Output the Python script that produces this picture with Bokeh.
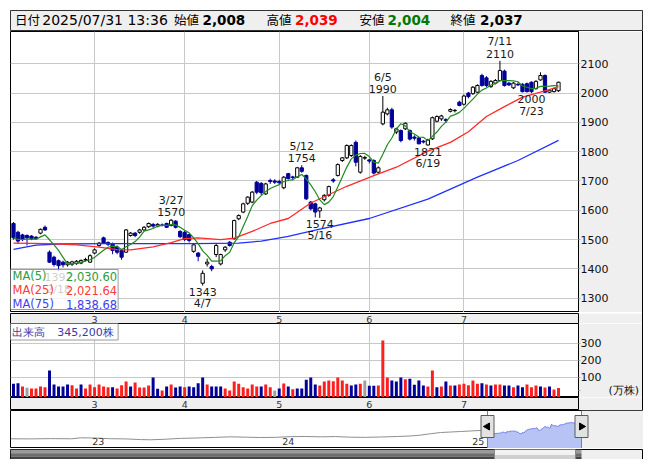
import numpy as np
import pandas as pd
from bokeh.plotting import figure
from bokeh.models import Range1d, FixedTicker, ColumnDataSource, Spacer, Grid
from bokeh.layouts import column, row
from bokeh.embed import file_html
from bokeh.resources import INLINE
from bokeh.core.properties import value

# ---------------- data ----------------
OPEN = [1555, 1525, 1516, 1514, 1512, 1508, 1522, 1542, 1457, 1440,
        1428, 1423, 1414, 1416, 1418, 1420, 1430, 1423, 1454, 1480,
        1506, 1490, 1486, 1475, 1463, 1457, 1514, 1522, 1525, 1533,
        1544, 1552, 1546, 1550, 1555, 1548, 1563, 1528, 1525, 1517,
        1460, 1454, 1351, 1417, 1408, 1449, 1417, 1465, 1491, 1503,
        1571, 1594, 1624, 1628, 1696, 1692, 1656, 1702, 1700, 1698,
        1677, 1725, 1714, 1713, 1745, 1719, 1628, 1622, 1598, 1636,
        1651, 1704, 1719, 1770, 1779, 1787, 1832, 1730, 1778, 1772,
        1770, 1730, 1895, 1929, 1943, 1867, 1872, 1878, 1872, 1850,
        1847, 1836, 1823, 1844, 1904, 1912, 1910, 1938, 1940, 1969,
        1962, 2000, 1998, 2003, 2060, 2052, 2022, 2034, 2043, 2075,
        2034, 2018, 2030, 2030, 2032, 2037, 2015, 2045, 2060, 2003,
        2005, 2008]
HIGH = [1560, 1530, 1520, 1518, 1515, 1512, 1538, 1548, 1463, 1445,
        1432, 1428, 1427, 1428, 1430, 1432, 1438, 1450, 1470, 1492,
        1510, 1494, 1490, 1480, 1466, 1536, 1526, 1526, 1537, 1546,
        1558, 1556, 1556, 1555, 1558, 1570, 1566, 1532, 1530, 1520,
        1486, 1458, 1395, 1435, 1414, 1485, 1452, 1478, 1495, 1568,
        1586, 1626, 1648, 1666, 1700, 1696, 1694, 1708, 1706, 1704,
        1717, 1728, 1718, 1748, 1754, 1722, 1632, 1626, 1612, 1655,
        1684, 1710, 1760, 1782, 1825, 1825, 1838, 1788, 1786, 1776,
        1774, 1750, 1990, 1950, 1950, 1882, 1876, 1900, 1876, 1856,
        1850, 1840, 1844, 1920, 1924, 1926, 1914, 1948, 1946, 1974,
        1995, 2004, 2024, 2030, 2066, 2058, 2044, 2048, 2110, 2080,
        2038, 2038, 2036, 2034, 2036, 2040, 2044, 2071, 2064, 2014,
        2019, 2039]
LOW = [1500, 1485, 1495, 1480, 1498, 1500, 1518, 1530, 1420, 1408,
       1392, 1405, 1408, 1410, 1414, 1416, 1426, 1420, 1450, 1476,
       1485, 1478, 1450, 1450, 1431, 1455, 1510, 1508, 1520, 1530,
       1540, 1540, 1542, 1545, 1540, 1545, 1538, 1505, 1495, 1490,
       1455, 1426, 1343, 1408, 1392, 1440, 1412, 1458, 1476, 1500,
       1566, 1590, 1618, 1624, 1655, 1652, 1652, 1690, 1690, 1688,
       1672, 1705, 1702, 1710, 1728, 1635, 1600, 1576, 1574, 1630,
       1646, 1694, 1715, 1765, 1775, 1782, 1750, 1725, 1772, 1760,
       1722, 1725, 1890, 1924, 1878, 1860, 1832, 1874, 1838, 1838,
       1825, 1828, 1821, 1840, 1900, 1905, 1898, 1934, 1934, 1955,
       1958, 1982, 1994, 2000, 2022, 2020, 2018, 2030, 2040, 2022,
       2024, 2014, 2024, 2002, 2002, 2000, 2012, 2042, 2001, 2000,
       2002, 2004]
CLOSE = [1506, 1495, 1500, 1506, 1503, 1503, 1535, 1533, 1423, 1415,
         1411, 1414, 1423, 1424, 1426, 1429, 1432, 1445, 1465, 1488,
         1488, 1484, 1463, 1457, 1440, 1533, 1522, 1514, 1533, 1542,
         1555, 1546, 1552, 1549, 1542, 1566, 1542, 1510, 1500, 1497,
         1482, 1443, 1385, 1423, 1400, 1480, 1449, 1474, 1480, 1565,
         1582, 1622, 1645, 1662, 1662, 1660, 1690, 1698, 1696, 1694,
         1713, 1708, 1712, 1745, 1733, 1639, 1605, 1594, 1608, 1651,
         1681, 1700, 1756, 1779, 1821, 1821, 1764, 1784, 1780, 1768,
         1727, 1745, 1935, 1943, 1884, 1878, 1838, 1897, 1843, 1846,
         1827, 1833, 1840, 1916, 1920, 1922, 1906, 1944, 1941, 1958,
         1990, 1988, 2020, 2026, 2026, 2026, 2040, 2043, 2077, 2026,
         2028, 2034, 2028, 2005, 2005, 2005, 2040, 2060, 2003, 2010,
         2015, 2037]
# volume in 10,000 shares (万株)
VOLUME = [60, 64, 44, 36, 32, 32, 44, 40, 140, 56,
          44, 44, 56, 52, 32, 56, 32, 56, 40, 56,
          44, 40, 40, 32, 52, 74, 44, 68, 38, 38,
          50, 98, 30, 20, 44, 56, 38, 44, 40, 44,
          40, 64, 98, 56, 44, 44, 44, 32, 20, 74,
          60, 40, 32, 56, 44, 44, 56, 40, 20, 32,
          62, 44, 28, 32, 32, 84, 98, 56, 50, 74,
          80, 76, 98, 80, 60, 50, 56, 60, 80, 48,
          48, 50, 320, 98, 80, 74, 98, 88, 90, 54,
          80, 50, 44, 140, 40, 44, 74, 50, 50, 56,
          60, 52, 80, 60, 64, 56, 50, 56, 56, 50,
          50, 40, 50, 40, 56, 40, 50, 44, 38, 44,
          26, 34.52]
VOL_DIR = list("bbrgrrrrbb" "bbbrrbrrrr" "rrbrrrbrrr" "rbbrbrbbrb" "bbbrbbbrrr"
               "rrrrrbrrgb" "rbrbbbbbrr" "rrrrrbbrgb" "brrrbbbrbb" "bbrrbrbrbr"
               "rrrrbrbrrb" "brbbrrrbrb" "rr")

MA25_IDX = [0, 8, 14, 19, 23, 26, 31, 35, 38, 41, 46, 49, 53, 57, 61, 66, 74, 80, 85,
            92, 97, 101, 105, 109, 113, 117, 121]
MA25_VAL = [1488, 1486, 1482, 1474, 1466, 1465, 1475, 1490, 1503, 1506, 1500, 1505, 1528,
            1555, 1572, 1625, 1682, 1718, 1747, 1802, 1832, 1868, 1920, 1954, 1986, 2003, 2021.64]
MA75_IDX = [0, 5, 10, 20, 40, 50, 55, 61, 67, 79, 92, 103, 112, 121]
MA75_VAL = [1467, 1481, 1485, 1486, 1486, 1488, 1495, 1511, 1532, 1572, 1638, 1713, 1770, 1838.68]

MONTH_START = [18, 38, 59, 79, 100]
MONTH_LABELS = ["3", "4", "5", "6", "7"]
Y_TICKS = [1300, 1400, 1500, 1600, 1700, 1800, 1900, 2000, 2100]
VOL_TICKS = [100, 200, 300]
VOL_UNIT = "(万株)"
VOL_UNIT_AT = 20

ANN_IDX = [10, 35, 42, 64, 68, 82, 92, 108, 115]
ANN_DATE = ["2/18", "3/27", "4/7", "5/12", "5/16", "6/5", "6/19", "7/11", "7/23"]
ANN_KIND = ["low", "high", "low", "high", "low", "high", "low", "high", "low"]

HEADER_DATETIME = "2025/07/31 13:36"
HEADER_LABELS = ["日付", "始値", "高値", "安値", "終値"]
MA_NAMES = ["MA(5)", "MA(25)", "MA(75)"]
MA_LAST = ["2,030.60", "2,021.64", "1,838.68"]
LAST_VOLUME_SHARES = 345200

NAV_T = [2022.574, 2022.679, 2022.784, 2022.895, 2022.942, 2023.026, 2023.100, 2023.179,
         2023.258, 2023.311, 2023.389, 2023.468, 2023.574, 2023.653, 2023.732, 2023.811,
         2023.889, 2023.968, 2024.047, 2024.126, 2024.205, 2024.284, 2024.363, 2024.442,
         2024.521, 2024.611, 2024.679, 2024.732, 2024.784, 2024.837, 2024.889, 2024.942,
         2024.995, 2025.047, 2025.079]
NAV_P = [1106, 1100, 1115, 1106, 1164, 1150, 1110, 1100, 1060, 1048, 1080, 1130, 1160, 1190,
         1220, 1200, 1180, 1190, 1230, 1240, 1220, 1235, 1200, 1190, 1210, 1240, 1270, 1320,
         1400, 1470, 1500, 1530, 1560, 1590, 1570]
NAV_YEARS = [2023, 2024, 2025]
NAV_YEAR_LABELS = ["23", "24", "25"]

# ---------------- styling / geometry ----------------
FONT = "DejaVu Sans"
JP = "Noto Sans CJK JP"
UPLINE = "#000000"
DOWN = "#000099"
VCOL = {"r": "#ff1e1e", "b": "#000099", "g": "#a0a0a0"}
GRID = "#c8c8c8"
PANEL = "#efefef"

PX_L, PX_R = 10, 580
MAIN_T, MAIN_B = 31, 312
X0, X1 = -0.664, 125.44
Y0, Y1 = 1251.2, 2210.2
VOL_T, VOL_B = 323, 397
VY0, VY1 = -22.2, 421.8


def mx(px):
    return X0 + (px - PX_L) * (X1 - X0) / (PX_R - PX_L)


def my(py):
    return Y1 - (py - MAIN_T) * (Y1 - Y0) / (MAIN_B - MAIN_T)


def vy(py):
    return VY1 - (py - VOL_T) * (VY1 - VY0) / (VOL_B - VOL_T)


def fmt(v):
    return f"{int(v):,}"


def style_yaxis(ax, ticks):
    ax.ticker = FixedTicker(ticks=ticks)
    ax.axis_line_color = "black"
    ax.major_tick_in = 0
    ax.major_tick_out = 2
    ax.major_tick_line_color = "#b0b0b0"
    ax.minor_tick_line_color = None
    ax.major_label_standoff = 0
    ax.major_label_text_font = FONT
    ax.major_label_text_font_size = "11px"
    ax.major_label_text_color = "#111111"


def add_grids(f, xticks, yticks):
    f.grid.visible = False
    f.add_layout(Grid(dimension=0, ticker=FixedTicker(ticks=xticks), grid_line_color=GRID))
    f.add_layout(Grid(dimension=1, ticker=FixedTicker(ticks=yticks), grid_line_color=GRID))


def month_strip(xr, height):
    s = figure(width=632, height=height, x_range=xr, y_range=Range1d(0, 1),
               output_backend="svg", toolbar_location=None, tools="",
               x_axis_location=None, y_axis_location=None,
               min_border_left=0, min_border_right=62, min_border_top=0, min_border_bottom=0,
               background_fill_color=PANEL, border_fill_color=PANEL,
               outline_line_color="black")
    s.grid.visible = False
    s.text(x=MONTH_START, y=[0.5] * len(MONTH_START), text=MONTH_LABELS,
           text_font=value(FONT), text_font_size="9.5px", text_color="#333333",
           text_align="center", text_baseline="middle")
    return s


N = len(CLOSE)
idx = np.arange(N)
o = np.array(OPEN, float)
h = np.array(HIGH, float)
l = np.array(LOW, float)
c = np.array(CLOSE, float)
up = c >= o

xr = Range1d(X0, X1)

# ---------------- header ----------------
hdr = figure(width=633, height=21, x_range=Range1d(0, 633), y_range=Range1d(21, 0),
             output_backend="svg", toolbar_location=None, tools="", min_border=0,
             x_axis_location=None, y_axis_location=None,
             background_fill_color=PANEL, border_fill_color=PANEL,
             outline_line_color="#333333")
hdr.grid.visible = False
hy = 9.4
hdr.text(x=[4.6, 163.6, 256, 349, 440], y=[hy] * 5, text=HEADER_LABELS,
         text_font=value(JP), text_font_size="12.5px", text_color="black",
         text_baseline="middle", text_align="left")
hdr.text(x=[31.8], y=[hy], text=[HEADER_DATETIME], text_font=value(FONT),
         text_font_size="14px", text_color="black", text_baseline="middle", text_align="left")
hdr.text(x=[192, 284.5, 377, 469.5], y=[hy] * 4,
         text=[fmt(OPEN[-1]), fmt(HIGH[-1]), fmt(LOW[-1]), fmt(CLOSE[-1])],
         text_color=["black", "#ff0000", "#007800", "black"],
         text_font=value(FONT), text_font_style="bold", text_font_size="13.5px",
         text_baseline="middle", text_align="left")

# ---------------- main candle chart ----------------
p = figure(width=632, height=281, x_range=xr, y_range=Range1d(Y0, Y1),
           output_backend="svg", toolbar_location=None, tools="",
           x_axis_location=None, y_axis_location="right",
           min_border_left=0, min_border_right=62, min_border_top=0, min_border_bottom=0,
           border_fill_color=PANEL, background_fill_color="white",
           outline_line_color="black")
style_yaxis(p.yaxis[0], Y_TICKS)
add_grids(p, MONTH_START, Y_TICKS)

csrc = ColumnDataSource(dict(
    x=idx, top=np.maximum(o, c), bottom=np.minimum(o, c), high=h, low=l,
    fill=["white" if u else DOWN for u in up],
    line=[UPLINE if u else DOWN for u in up]))
p.segment(x0="x", y0="low", x1="x", y1="high", line_color="line", line_width=1, source=csrc)
p.vbar(x="x", width=0.72, top="top", bottom="bottom", fill_color="fill",
       line_color="line", line_width=1, source=csrc)

ma5 = pd.Series(CLOSE, dtype=float).rolling(5, min_periods=1).mean()
p.line(MA75_IDX, MA75_VAL, line_color="#2030ff", line_width=1.3)
p.line(MA25_IDX, MA25_VAL, line_color="#ff2a2a", line_width=1.3)
p.line(idx, ma5, line_color="#1f8a1f", line_width=1.2)

hi = [k == "high" for k in ANN_KIND]
hx = [i for i, f in zip(ANN_IDX, hi) if f]
hv = [HIGH[i] for i in hx]
hd = [d for d, f in zip(ANN_DATE, hi) if f]
lx = [i for i, f in zip(ANN_IDX, hi) if not f]
lv = [LOW[i] for i in lx]
ld = [d for d, f in zip(ANN_DATE, hi) if not f]
akw = dict(text_font=value(FONT), text_font_size="11px", text_color="#1a1a1a",
           text_align="center", text_baseline="middle")
p.text(x=hx, y=hv, text=[str(v) for v in hv], y_offset=-7, **akw)
p.text(x=hx, y=hv, text=hd, y_offset=-19, **akw)
p.text(x=lx, y=lv, text=[str(v) for v in lv], y_offset=6, **akw)
p.text(x=lx, y=lv, text=ld, y_offset=18, **akw)

# MA legend box
p.quad(left=[X0], right=[mx(118)], top=[my(269)], bottom=[my(309)],
       fill_color="white", fill_alpha=0.78, line_color="#9a9a9a", line_width=1)
ma_cols = ["#2f9a3f", "#ff3a3a", "#4040ee"]
rows_y = [my(275.5), my(289.5), my(303.5)]
p.text(x=[mx(12)] * 3, y=rows_y, text=MA_NAMES, text_color=ma_cols,
       text_font=value(FONT), text_font_size="11.5px", text_align="left", text_baseline="middle")
p.text(x=[mx(117)] * 3, y=rows_y, text=MA_LAST, text_color=ma_cols,
       text_font=value(FONT), text_font_size="11.5px", text_align="right", text_baseline="middle")

strip1 = month_strip(xr, 11)

# ---------------- volume ----------------
v = figure(width=632, height=74, x_range=xr, y_range=Range1d(VY0, VY1),
           output_backend="svg", toolbar_location=None, tools="",
           x_axis_location=None, y_axis_location="right",
           min_border_left=0, min_border_right=62, min_border_top=0, min_border_bottom=0,
           border_fill_color=PANEL, background_fill_color="white",
           outline_line_color="black")
style_yaxis(v.yaxis[0], VOL_TICKS + [VOL_UNIT_AT])
v.yaxis[0].major_label_overrides = {VOL_UNIT_AT: "\u00a0" * 8 + VOL_UNIT}
add_grids(v, MONTH_START, VOL_TICKS)
vsrc = ColumnDataSource(dict(x=idx, top=VOLUME, col=[VCOL[d] for d in VOL_DIR]))
v.vbar(x="x", width=0.66, top="top", bottom=VY0, fill_color="col", line_color=None, source=vsrc)
v.quad(left=[X0], right=[mx(118)], top=[vy(323)], bottom=[vy(339.5)],
       fill_color="white", fill_alpha=0.8, line_color="#9a9a9a", line_width=1)
v.text(x=[mx(12), mx(57)], y=[vy(331.5)] * 2, text=["出来高", f"{LAST_VOLUME_SHARES:,}株"],
       text_color="#3a3aa8", text_font=value(FONT), text_font_size="11px",
       text_align="left", text_baseline="middle")

strip2 = month_strip(xr, 13)

# ---------------- navigator ----------------
PX_PER_YEAR = 190.0
NX0 = 2023 - (91 - 10) / PX_PER_YEAR
NX1 = NX0 + 633 / PX_PER_YEAR
NY0, NY1 = 541, 2753


def nx(px):
    return NX0 + (px - 10) / PX_PER_YEAR


def ny(py):
    return NY1 - (py - 410) * (NY1 - NY0) / 38


WIN_L, WIN_R = nx(487), nx(581)
wx = WIN_L + idx * (WIN_R - WIN_L) / (N - 1)

nav = figure(width=633, height=38, x_range=Range1d(NX0, NX1), y_range=Range1d(NY0, NY1),
             output_backend="svg", toolbar_location=None, tools="", min_border=0,
             x_axis_location=None, y_axis_location=None,
             background_fill_color="white", border_fill_color="white",
             outline_line_color="black")
nav.grid.visible = False
nav.quad(left=[nx(581)], right=[NX1], top=[NY1], bottom=[NY0], fill_color=PANEL, line_color=None)
nav.line(NAV_T, NAV_P, line_color="#8e8e8e", line_width=1)
nav.varea(x=wx, y1=NY0, y2=CLOSE, fill_color="#b7c3f4")
nav.line(wx, CLOSE, line_color="#6d7de6", line_width=1)
nav.text(x=[yr + 0.004 for yr in NAV_YEARS], y=[ny(441)] * 3, text=NAV_YEAR_LABELS,
         text_font=value(FONT), text_font_size="9.5px", text_color="#333333",
         text_align="left", text_baseline="middle")
nav.segment(x0=[WIN_L, WIN_R], x1=[WIN_L, WIN_R], y0=[NY0] * 2, y1=[NY1] * 2,
            line_color="#1ea0dc", line_width=1)
nav.rect(x=[WIN_L, WIN_R], y=[ny(426)] * 2, width=13, height=22,
         width_units="screen", height_units="screen",
         fill_color="#e2e2e2", line_color="#5a5a5a", line_width=1)
nav.scatter(x=[WIN_L, WIN_R], y=[ny(426)] * 2, marker="triangle", size=7,
            angle=[np.pi / 2, -np.pi / 2], fill_color="black", line_color="black")

# ---------------- scrollbar ----------------
sb = figure(width=633, height=11, x_range=Range1d(NX0, NX1), y_range=Range1d(0, 1),
            output_backend="svg", toolbar_location=None, tools="", min_border=0,
            x_axis_location=None, y_axis_location=None,
            background_fill_color=PANEL, border_fill_color=PANEL,
            outline_line_color="black")
sb.grid.visible = False
sb.quad(left=[NX0] * 3, right=[nx(581)] * 3, top=[1, 0.66, 0.33], bottom=[0.66, 0.33, 0],
        fill_color=["#9a9a9a", "#6c6c6c", "#444444"], line_color=None)
sb.quad(left=[nx(494)] * 2, right=[nx(575)] * 2, top=[1, 0.5], bottom=[0.5, 0],
        fill_color=["#f2f2f2", "#cfcfcf"], line_color=None)
sb.quad(left=[nx(494)], right=[nx(575)], top=[1], bottom=[0], fill_color=None,
        line_color="#888888", line_width=1)

# ---------------- layout ----------------
vline = Spacer(width=1, height=281 + 11 + 74 + 13, styles={"background-color": "#000000"})
layout = column(
    Spacer(height=10),
    row(Spacer(width=10), hdr),
    row(Spacer(width=10), column(p, strip1, v, strip2), vline),
    row(Spacer(width=10), nav),
    row(Spacer(width=10), sb),
)

open("out.html", "w").write(file_html(layout, INLINE))
